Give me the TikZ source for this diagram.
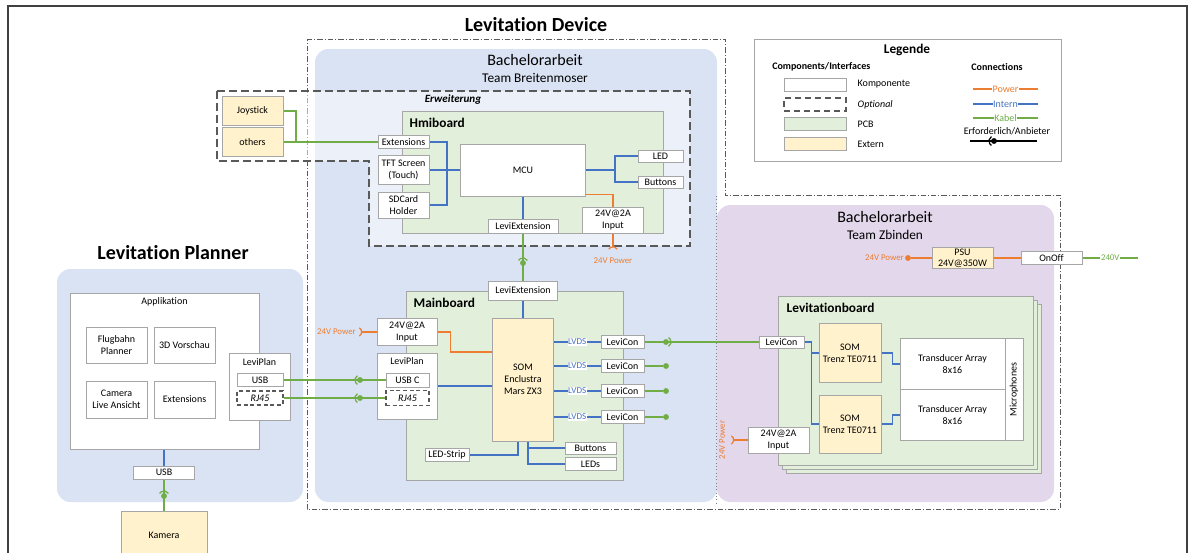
\documentclass[tikz,border=0pt]{standalone}
\usepackage{fontspec}
\setmainfont{Carlito}[Ligatures=NoCommon]
\usepackage{tikz}
\usepackage{xcolor}

\definecolor{pwrorange}{HTML}{ED7D31}
\definecolor{internblue}{HTML}{4472C4}
\definecolor{kabelgreen}{HTML}{70AD47}
\definecolor{regionblue}{HTML}{DAE3F3}
\definecolor{regionpurple}{HTML}{E2D7EB}
\definecolor{pcbgreen}{HTML}{E2EFDA}
\definecolor{extyellow}{HTML}{FFF2CC}
\definecolor{boxgray}{HTML}{A6A6A6}
\definecolor{dashgray}{HTML}{595959}

\newcommand{\boxfont}{\fontsize{7.5}{9}\selectfont}
\newcommand{\lblfont}{\fontsize{6.6}{8}\selectfont}
\newcommand{\balljoint}[3]{%
  \fill[#3] (#1) circle[radius=2.2pt];
  \draw[#3, line width=0.9pt] (#1) ++(#2:3.8pt) arc[start angle=#2, delta angle=120, radius=3.8pt];}
\newcommand{\powersocket}[2]{%
  \draw[pwrorange, line width=0.9pt] (#1) ++(#2-60:3.6pt) arc[start angle=#2-60, delta angle=120, radius=3.6pt];}

\tikzset{
  comp/.style={draw=boxgray, fill=white, line width=0.75pt, inner sep=0.5pt, align=center, font=\boxfont},
  extern/.style={comp, fill=extyellow},
  optional/.style={comp, draw=dashgray, line width=1pt, dash pattern=on 3pt off 2pt},
  wh/.style 2 args={minimum width=#1*0.75pt, minimum height=#2*0.75pt},
  pcb/.style={fill=pcbgreen, draw=boxgray, line width=0.75pt},
  boardlabel/.style={anchor=west, font=\bfseries\fontsize{10}{12}\selectfont},
  pwr/.style={draw=pwrorange, line width=0.9pt},
  intern/.style={draw=internblue, line width=0.9pt},
  kabel/.style={draw=kabelgreen, line width=0.9pt},
  lvds/.style={fill=white, inner sep=0.4pt, text=internblue, font=\fontsize{6.8}{8}\selectfont},
  gdot/.style={circle, fill=kabelgreen, inner sep=0pt, minimum size=4.4pt},
  legtxt/.style={fill=white, inner sep=0.5pt, font=\boxfont},
}

\begin{document}
\begin{tikzpicture}[x=0.75pt, y=-0.75pt]
  \useasboundingbox (0,0) rectangle (1197,553);

  % frame and regions
  \draw[line width=1.1pt, black!75] (8,553) -- (8,6) -- (1187,6) -- (1187,553);
  \fill[regionblue, rounded corners=10pt] (57,269) rectangle (303,502);
  \fill[regionblue, rounded corners=10pt] (315,49) rectangle (717,502);
  \fill[regionpurple, rounded corners=10pt] (717,205) rectangle (1054,502);
  \draw[gray, line width=0.5pt, dotted] (716,196) -- (716,505);
  \draw[dashgray, line width=0.5pt, dash pattern=on 4pt off 1.5pt on 0.8pt off 1.5pt]
    (307,39) -- (725,39) -- (725,195) -- (1060,195) -- (1060,509) -- (307,509) -- cycle;

  \node[font=\bfseries\fontsize{15}{18}\selectfont] (devtitle) at (536,25) {Levitation Device};
  \node[font=\bfseries\fontsize{15}{18}\selectfont] (plantitle) at (173,253) {Levitation Planner};
  \node[font=\fontsize{12}{14}\selectfont] (babreit) at (535,60) {Bachelorarbeit};
  \node[font=\fontsize{10}{12}\selectfont] (teambreit) at (535,78) {Team Breitenmoser};
  \node[font=\fontsize{12}{14}\selectfont] (babzbind) at (885,217) {Bachelorarbeit};
  \node[font=\fontsize{10}{12}\selectfont] (teamzbind) at (885,235) {Team Zbinden};

  % Erweiterung / Hmiboard
  \draw[dashgray, line width=1.2pt, dash pattern=on 6pt off 3pt, fill=white, fill opacity=0.5]
    (217,91) -- (690,91) -- (690,246) -- (369,246) -- (369,161) -- (217,161) -- cycle;
  \node[font=\bfseries\itshape\fontsize{8.3}{10}\selectfont] (erw) at (453,100) {Erweiterung};
  \draw[pcb] (402,111) rectangle (663,233);
  \node[boardlabel] (hmilbl) at (405,123) {Hmiboard};

  \node[comp, wh={51}{13}] (exth) at (403.5,142) {Extensions};
  \node[comp, wh={51}{29}] (tft) at (403.5,170) {TFT Screen\\(Touch)};
  \node[comp, wh={51}{26}] (sdcard) at (403.5,205) {SDCard\\Holder};
  \node[comp, wh={125}{52}] (mcu) at (523,170) {MCU};
  \node[comp, wh={45}{12}] (ledh) at (660.5,156) {LED};
  \node[comp, wh={45}{12}] (buttonsh) at (660.5,182) {Buttons};
  \node[comp, wh={61}{26}] (inputh) at (613,220) {24V@2A\\Input};
  \node[comp, wh={70}{14}] (leviexth) at (523,226) {LeviExtension};
  \node[extern, wh={61}{29}] (joystick) at (252.5,111) {Joystick};
  \node[extern, wh={61}{29}] (others) at (252.5,142) {others};

  % Mainboard
  \draw[pcb] (406,291) rectangle (623,480);
  \node[boardlabel] (mainlbl) at (409,303) {Mainboard};
  \node[comp, wh={69}{19}] (leviextm) at (523,290.5) {LeviExtension};
  \node[comp, wh={60}{27}] (inputm) at (407,332) {24V@2A\\Input};
  \node[comp, wh={60}{66}] (leviplanm) at (407,386) {};
  \node[font=\boxfont] (leviplanmlbl) at (407,361) {LeviPlan};
  \node[comp, wh={43}{14}] (usbc) at (407.5,380) {USB C};
  \node[optional, wh={43}{15}] (rj45m) at (407.5,398) {\itshape RJ45};
  \node[extern, wh={61}{123}] (som) at (523,379.5) {SOM\\Enclustra\\Mars ZX3};
  \node[comp, wh={43}{13}] (levicon1) at (622.5,342) {LeviCon};
  \node[comp, wh={43}{13}] (levicon2) at (622.5,366) {LeviCon};
  \node[comp, wh={43}{13}] (levicon3) at (622.5,391) {LeviCon};
  \node[comp, wh={43}{13}] (levicon4) at (622.5,417) {LeviCon};
  \node[comp, wh={51}{12}] (buttonsm) at (590.5,448) {Buttons};
  \node[comp, wh={51}{13}] (ledsm) at (590.5,464) {LEDs};
  \node[comp, wh={44}{13}] (ledstrip) at (447,455) {LED-Strip};
  \node[gdot] (end2) at (666,366) {};
  \node[gdot] (end3) at (666,391) {};
  \node[gdot] (end4) at (666,417) {};

  % Levitation Planner
  \node[comp, wh={189}{156}] (app) at (164.5,371) {};
  \node[font=\boxfont] (applbl) at (164.5,302) {Applikation};
  \node[comp, wh={61}{36}] (flugbahn) at (116.5,345) {Flugbahn\\Planner};
  \node[comp, wh={61}{36}] (vorschau) at (184.5,345) {3D Vorschau};
  \node[comp, wh={61}{37}] (camlive) at (116.5,399.5) {Camera\\Live Ansicht};
  \node[comp, wh={61}{37}] (appext) at (184.5,399.5) {Extensions};
  \node[comp, wh={61}{67}] (leviplanp) at (259.5,386.5) {};
  \node[font=\boxfont] (leviplanplbl) at (259.5,362) {LeviPlan};
  \node[comp, wh={46}{13}] (usbp) at (260,380) {USB};
  \node[optional, wh={46}{14}] (rj45p) at (260,398) {\itshape RJ45};
  \node[comp, wh={61}{13}] (usbk) at (164,472.5) {USB};
  \node[extern, wh={86}{48}] (kamera) at (164,535) {Kamera};

  % Team Zbinden
  \node[extern, wh={61}{21}, inner sep=0pt, font=\fontsize{7.5}{8.5}\selectfont] (psu) at (962.5,258) {PSU\\24V@350W};
  \node[comp, wh={61}{13}] (onoff) at (1051.5,258) {OnOff};
  \node[circle, fill=pwrorange, inner sep=0pt, minimum size=4.4pt] (psudot) at (908,258) {};
  \node[anchor=east, inner sep=0pt, text=pwrorange, font=\lblfont] (psupwr) at (904,258) {24V Power};
  \coordinate (mains) at (1138,258);

  \draw[pcb] (786,304) rectangle (1041,473);
  \draw[pcb] (782,300) rectangle (1037,469);
  \draw[pcb] (778,296) rectangle (1033,465);
  \node[boardlabel] (levilbl) at (782,308) {Levitationboard};
  \node[comp, wh={45}{12}] (leviconl) at (781.5,342) {LeviCon};
  \node[extern, wh={62}{59}] (trenza) at (850,353) {SOM\\Trenz TE0711};
  \node[extern, wh={62}{58}] (trenzb) at (850,424) {SOM\\Trenz TE0711};
  \node[comp, wh={105}{51}] (transa) at (952.5,364) {Transducer Array\\8x16};
  \node[comp, wh={105}{51}] (transb) at (952.5,415) {Transducer Array\\8x16};
  \node[comp, rotate=90, wh={102}{18}] (mics) at (1014,389.5) {Microphones};
  \node[comp, wh={61}{26}] (inputl) at (778.5,440) {24V@2A\\Input};

  % connections Hmiboard
  \coordinate (joyjoin) at (296,142);
  \coordinate (hmibus) at (447,205);
  \coordinate (hmiright) at (615,170);
  \coordinate (hmisock) at (613,251.5);
  \draw[kabel] (joystick.east) -| (joyjoin);
  \draw[kabel] (others.east) -- (exth.west);
  \draw[intern] (exth.east) -| (hmibus) -- (sdcard.east);
  \draw[intern] (tft.east) -- (mcu.west);
  \draw[intern] (mcu.east) -- (hmiright);
  \draw[intern] (ledh.west) -| (hmiright |- buttonsh.west) -- (buttonsh.west);
  \draw[pwr] ([yshift=1.5pt]mcu.south east) -| (inputh.north);
  \draw[pwr] (inputh.south) -- ([yshift=3.6pt]hmisock);
  \powersocket{hmisock}{90}
  \node[font=\lblfont, text=pwrorange] (hmipwr) at (613,261) {24V Power};
  \draw[intern] (mcu.south) -- (leviexth.north);
  \draw[kabel] (leviexth.south) -- (leviextm.north);
  \balljoint{523,263}{30}{kabelgreen}

  % connections Mainboard
  \coordinate (mainsock) at (357,332);
  \coordinate (sompwr) at ([yshift=20.6pt]som.west);
  \draw[intern] (leviextm.south) -- (som.north);
  \draw[pwr] (inputm.west) -- ([xshift=3.6pt]mainsock);
  \powersocket{mainsock}{0}
  \node[anchor=east, inner sep=0pt, font=\lblfont, text=pwrorange] (mainpwr) at (356,332) {24V Power};
  \draw[pwr] (inputm.east) -- ++(13,0) |- (sompwr);
  \draw[intern] (leviplanm.east) -- (leviplanm.east -| som.west);
  \draw[kabel] (usbp.east) -- (usbc.west);
  \balljoint{360,380}{120}{kabelgreen}
  \draw[kabel] (rj45p.east) -- (rj45m.west);
  \balljoint{360,398}{120}{kabelgreen}
  \draw[intern] (som.east |- levicon1.west) -- node[lvds]{LVDS} (levicon1.west);
  \draw[intern] (som.east |- levicon2.west) -- node[lvds]{LVDS} (levicon2.west);
  \draw[intern] (som.east |- levicon3.west) -- node[lvds]{LVDS} (levicon3.west);
  \draw[intern] (som.east |- levicon4.west) -- node[lvds]{LVDS} (levicon4.west);
  \draw[kabel] (levicon1.east) -- (leviconl.west);
  \balljoint{666,342}{-60}{kabelgreen}
  \draw[kabel] (levicon2.east) -- (end2);
  \draw[kabel] (levicon3.east) -- (end3);
  \draw[kabel] (levicon4.east) -- (end4);
  \draw[intern] ([xshift=-3.75pt]som.south) |- (ledstrip.east);
  \draw[intern] ([xshift=3.75pt]som.south) |- (ledsm.west);
  \draw[intern] ([xshift=3.75pt]som.south |- buttonsm.west) -- (buttonsm.west);

  % connections Planner
  \draw[intern] (app.south -| usbk.north) -- (usbk.north);
  \draw[kabel] (usbk.south) -- (kamera.north);
  \balljoint{164,496}{30}{kabelgreen}

  % connections Levitationboard
  \coordinate (levisock) at (729,440);
  \draw[pwr] (psudot) -- (psu.west);
  \draw[pwr] (psu.east) -- (onoff.west);
  \draw[kabel] (onoff.east) -- node[fill=white, inner sep=0.5pt, text=kabelgreen, font=\lblfont]{240V} (mains);
  \draw[intern] (leviconl.east) -| ([xshift=-5.25pt]trenzb.west) -- (trenzb.west);
  \draw[intern] ([xshift=-5.25pt]trenza.west) -- (trenza.west);
  \draw[intern] (trenza.east) -- ++(11,0) |- (transa.west);
  \draw[intern] (trenzb.east) -- ++(11,0) |- (transb.west);
  \draw[pwr] (inputl.west) -- ([xshift=3.6pt]levisock);
  \powersocket{levisock}{0}
  \node[rotate=90, font=\lblfont, text=pwrorange] (levipwr) at (722,440) {24V Power};

  % Legende
  \draw[boxgray, line width=0.75pt] (754,39) rectangle (1061,161);
  \node[font=\bfseries\fontsize{10}{12}\selectfont] (legtitle) at (907,50) {Legende};
  \node[anchor=west, inner sep=0pt, font=\bfseries\boxfont] (legcomp) at (772,67) {Components/Interfaces};
  \node[font=\bfseries\boxfont] (legconn) at (997,67) {Connections};
  \node[comp, wh={62}{13}] (legkomp) at (815,84.5) {};
  \node[optional, line width=1.2pt, dash pattern=on 4.5pt off 3pt, wh={62}{13}] (legopt) at (815,104.5) {};
  \node[comp, fill=pcbgreen, wh={62}{13}] (legpcb) at (815,124) {};
  \node[extern, wh={62}{13}] (legext) at (815,144) {};
  \node[anchor=west, font=\boxfont] (legkomplbl) at (853,84.5) {Komponente};
  \node[anchor=west, font=\boxfont\itshape] (legoptlbl) at (853,104.5) {Optional};
  \node[anchor=west, font=\boxfont] (legpcblbl) at (853,124) {PCB};
  \node[anchor=west, font=\boxfont] (legextlbl) at (853,144) {Extern};
  \draw[pwr] (973,89) -- node[legtxt, text=pwrorange]{Power} (1038,89);
  \draw[intern] (973,104) -- node[legtxt, text=internblue]{Intern} (1038,104);
  \draw[kabel] (973,118) -- node[legtxt, text=kabelgreen]{Kabel} (1038,118);
  \node[font=\boxfont] (legreq) at (1007,131) {Erforderlich/Anbieter};
  \draw[black, line width=0.9pt] (970,141) -- (1037,141);
  \balljoint{994,141}{120}{black}
\end{tikzpicture}
\end{document}
